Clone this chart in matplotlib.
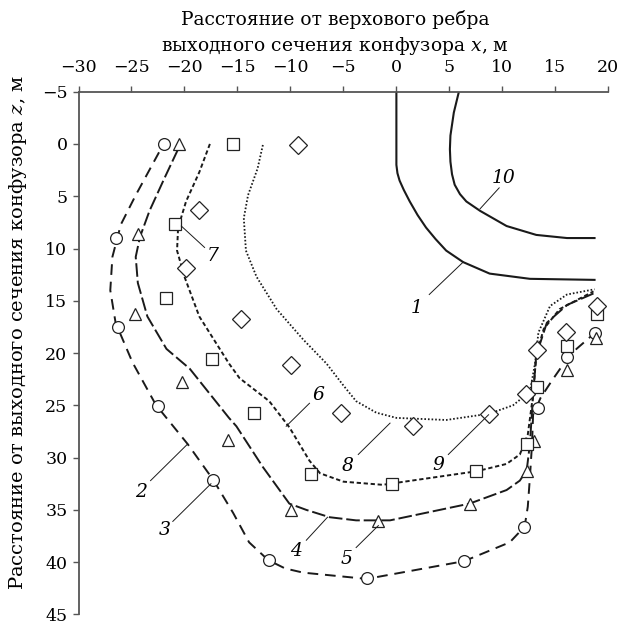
import numpy as np
import matplotlib
matplotlib.use('Agg')
import matplotlib.pyplot as plt

plt.rcParams['font.family'] = ['DejaVu Serif']
plt.rcParams['mathtext.fontset'] = 'dejavuserif'

# measured points (x, z) in metres
circ_x = [-21.9, -26.5, -26.25, -22.5, -17.3, -12.0, -2.8, 6.4, 12.0, 13.4, 16.1, 18.7]
circ_z = [0.0, 9.0, 17.5, 25.1, 32.1, 39.8, 41.5, 39.9, 36.6, 25.3, 20.4, 18.1]
tri_x = [-20.5, -24.35, -24.7, -20.2, -15.85, -9.9, -1.7, 6.9, 12.3, 13.0, 16.1, 18.8]
tri_z = [0.0, 8.6, 16.3, 22.8, 28.3, 35.0, 36.1, 34.4, 31.3, 28.4, 21.6, 18.6]
sq_x = [-15.45, -20.9, -21.7, -17.4, -13.4, -8.1, -0.4, 7.55, 12.3, 13.3, 16.1, 18.9]
sq_z = [0.0, 7.7, 14.75, 20.6, 25.7, 31.6, 32.55, 31.3, 28.65, 23.2, 19.3, 16.3]
dia_x = [-9.3, -18.6, -19.9, -14.65, -9.9, -5.2, 1.6, 8.75, 12.2, 13.3, 16.0, 18.9]
dia_z = [0.1, 6.3, 11.9, 16.7, 21.1, 25.7, 27.0, 25.8, 23.9, 19.7, 18.0, 15.5]

# calculated boundaries
c1_x = [0, 0, 0.1, 0.3, 0.7, 1.26, 2.0, 2.8, 3.7, 4.7, 6.3, 8.8, 12.6, 18.7]
c1_z = [-5, 2.0, 2.8, 3.5, 4.4, 5.5, 6.8, 8.0, 9.1, 10.2, 11.3, 12.4, 12.9, 13.0]
c10_x = [5.9, 5.42, 5.1, 5.05, 5.1, 5.25, 5.5, 6.0, 6.6, 7.9, 10.4, 13.2, 16.1, 18.7]
c10_z = [-5, -3.0, -0.8, 0.5, 1.7, 2.9, 3.9, 4.8, 5.5, 6.4, 7.85, 8.7, 9.0, 9.0]
c2_x = [-22.4, -24.6, -26.0, -26.8, -27.0, -26.5, -24.9, -22.7, -19.7, -17.3, -15.4, -13.9,
        -12.1, -10.5, -8.8, -2.8, 6.4, 10.7, 12.1, 12.4, 12.6, 12.8, 12.9, 13.6, 14.7, 15.8, 17.0, 18.7]
c2_z = [0.8, 4.9, 7.7, 10.8, 14.0, 17.1, 20.9, 24.95, 28.7, 32.1, 35.3, 38.1,
        39.8, 40.6, 41.0, 41.6, 39.9, 38.1, 36.6, 34.7, 31.9, 28.7, 25.9, 24.3, 22.6, 21.0, 19.6, 18.1]
c4_x = [-20.6, -21.9, -23.3, -24.2, -24.6, -24.4, -23.5, -21.7, -19.5, -15.8, -15.1, -12.6,
        -10.1, -8.5, -6.3, -3.8, -0.6, 6.9, 10.4, 11.65, 12.3, 12.6, 12.9, 13.2, 14.2, 16.1, 18.6]
c4_z = [0.5, 3.3, 6.4, 8.9, 10.8, 13.3, 16.5, 19.6, 21.5, 26.2, 27.0, 30.9,
        34.4, 35.0, 35.7, 36.0, 36.0, 34.4, 33.1, 32.2, 31.2, 28.7, 24.0, 20.2, 17.1, 15.4, 14.3]
c6_x = [-17.6, -18.6, -19.85, -20.6, -20.7, -20.0, -18.6, -15.8, -14.8, -12.0, -10.1, -8.2,
        -7.2, -5.0, -1.3, 7.6, 10.4, 11.65, 12.4, 12.9, 13.2, 13.9, 15.4, 18.6]
c6_z = [0.0, 2.7, 5.5, 8.0, 10.2, 12.7, 16.5, 21.0, 22.4, 24.6, 27.1, 30.3,
        31.5, 32.3, 32.6, 31.3, 30.6, 29.7, 27.8, 24.0, 20.2, 17.7, 15.8, 14.1]
c8_x = [-12.6, -13.1, -14.0, -14.4, -14.2, -13.2, -11.3, -8.8, -6.6, -5.0, -3.8, -1.9,
        0.0, 4.7, 8.75, 11.0, 12.6, 13.1, 13.4, 14.5, 16.1, 18.7]
c8_z = [0.1, 2.35, 4.9, 7.1, 10.2, 12.7, 15.8, 18.7, 21.0, 23.1, 24.6, 25.7,
        26.2, 26.4, 25.8, 25.0, 23.7, 20.9, 18.05, 15.5, 14.4, 13.9]

# curve labels: text, text position, leader start, leader end
lab_txt = ['1', '10', '2', '3', '4', '5', '6', '7', '8', '9']
lab_pos = [(1.9, 15.7), (10.1, 3.3), (-24.1, 33.3), (-21.9, 36.9), (-9.45, 38.9),
           (-4.7, 39.7), (-7.4, 24.0), (-17.3, 10.7), (-4.6, 30.8), (4.0, 30.7)]
lead_a = [(3.1, 14.4), (9.7, 4.2), (-23.2, 32.2), (-21.1, 36.1), (-8.5, 37.9),
          (-3.8, 38.6), (-8.2, 24.8), (-18.1, 9.9), (-3.6, 29.7), (4.9, 29.7)]
lead_b = [(6.3, 11.3), (7.9, 6.2), (-19.7, 28.7), (-17.5, 32.5), (-6.5, 35.7),
          (-1.7, 36.5), (-10.4, 27.0), (-20.3, 7.85), (-0.6, 26.7), (8.7, 25.9)]

fig = plt.figure(figsize=(6.27, 6.27), dpi=100)
ax = fig.add_axes([0.1252, 0.0200, 0.845, 0.8338])

lc = '#1a1a1a'
ax.plot(c1_x, c1_z, color=lc, lw=1.5)
ax.plot(c10_x, c10_z, color=lc, lw=1.5)
ax.plot(c2_x, c2_z, color=lc, lw=1.4, ls=(0, (5.5, 3.5)))
ax.plot(c4_x, c4_z, color=lc, lw=1.4, ls=(0, (7, 2)))
ax.plot(c6_x, c6_z, color=lc, lw=1.4, ls=(0, (2.2, 1.4)))
ax.plot(c8_x, c8_z, color=lc, lw=1.3, ls=(0, (0.9, 1.1)))

mk = dict(ls='none', mfc='white', mec='#222222', mew=0.9)
ax.plot(circ_x, circ_z, marker='o', ms=8.5, **mk)
ax.plot(tri_x, tri_z, marker='^', ms=9, **mk)
ax.plot(sq_x, sq_z, marker='s', ms=8.5, **mk)
ax.plot(dia_x, dia_z, marker='D', ms=8.8, **mk)

for t, p, a, b in zip(lab_txt, lab_pos, lead_a, lead_b):
    ax.plot([a[0], b[0]], [a[1], b[1]], color=lc, lw=0.7)
    ax.text(p[0], p[1], t, fontsize=13.5, style='italic', ha='center', va='center')

ax.set_xlim(-30, 20)
ax.set_ylim(45, -5)
ax.set_xticks(np.arange(-30, 21, 5))
ax.set_yticks(np.arange(-5, 46, 5))
ax.xaxis.tick_top()
ax.xaxis.set_label_position('top')
ax.spines['right'].set_visible(False)
ax.spines['bottom'].set_visible(False)
for s in ['top', 'left']:
    ax.spines[s].set_color('#555555')
    ax.spines[s].set_linewidth(1.3)
ax.tick_params(axis='both', direction='out', length=4, width=1, color='#555555',
               labelsize=12.5)
ax.tick_params(axis='x', pad=7)
ax.tick_params(axis='y', pad=4)
ax.set_xlabel('Расстояние от верхового ребра\nвыходного сечения конфузора $x$, м',
              fontsize=13.5, labelpad=6, linespacing=1.35)
ax.xaxis.label.set_x(0.484)
ax.set_ylabel('Расстояние от выходного сечения конфузора $z$, м',
              fontsize=14, labelpad=9)
ax.yaxis.label.set_y(0.54)

fig.savefig('out.png', dpi=100)
